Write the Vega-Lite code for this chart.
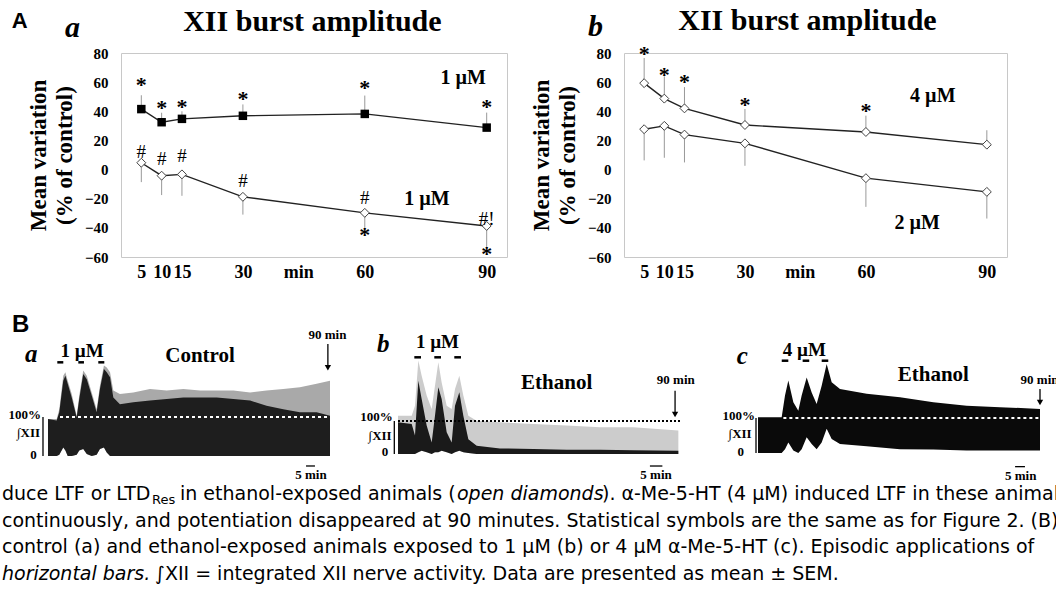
{
  "padding": {"left": 2, "top": 5, "right": 0, "bottom": 0},
  "background": "#ffffff",
  "config": {"view": {"stroke": null}},
  "spacing": 0,
  "datasets": {
    "apts": [
      {"panel":"a","series":"ctrl","t":5,"y":41.5,"err":51},
      {"panel":"a","series":"ctrl","t":10,"y":32.5,"err":39},
      {"panel":"a","series":"ctrl","t":15,"y":34.8,"err":40},
      {"panel":"a","series":"ctrl","t":30,"y":36.9,"err":44.7},
      {"panel":"a","series":"ctrl","t":60,"y":38.2,"err":50.8},
      {"panel":"a","series":"ctrl","t":90,"y":28.8,"err":39.1},
      {"panel":"a","series":"eth","t":5,"y":4.7,"err":-8.6},
      {"panel":"a","series":"eth","t":10,"y":-4.2,"err":-17.5},
      {"panel":"a","series":"eth","t":15,"y":-3.3,"err":-18},
      {"panel":"a","series":"eth","t":30,"y":-18.7,"err":-30.9},
      {"panel":"a","series":"eth","t":60,"y":-29.7,"err":-40.5},
      {"panel":"a","series":"eth","t":90,"y":-38.7,"err":-53.6},
      {"panel":"b","series":"4uM","t":5,"y":59.3,"err":76.6},
      {"panel":"b","series":"4uM","t":10,"y":48.7,"err":64},
      {"panel":"b","series":"4uM","t":15,"y":42,"err":56.6},
      {"panel":"b","series":"4uM","t":30,"y":30.6,"err":41.6},
      {"panel":"b","series":"4uM","t":60,"y":25.8,"err":37},
      {"panel":"b","series":"4uM","t":90,"y":17.1,"err":27},
      {"panel":"b","series":"2uM","t":5,"y":27.7,"err":6.3},
      {"panel":"b","series":"2uM","t":10,"y":30,"err":8.1},
      {"panel":"b","series":"2uM","t":15,"y":24,"err":4.9},
      {"panel":"b","series":"2uM","t":30,"y":18,"err":2.6},
      {"panel":"b","series":"2uM","t":60,"y":-5.9,"err":-25.6},
      {"panel":"b","series":"2uM","t":90,"y":-15.3,"err":-33.6}
    ],
    "atext": [
      {"panel":"a","kind":"star","t":5,"y":59.6,"label":"*"},
      {"panel":"a","kind":"star","t":10,"y":43.5,"label":"*"},
      {"panel":"a","kind":"star","t":15,"y":44,"label":"*"},
      {"panel":"a","kind":"star","t":30,"y":49.8,"label":"*"},
      {"panel":"a","kind":"star","t":60,"y":57.3,"label":"*"},
      {"panel":"a","kind":"star","t":90,"y":44,"label":"*"},
      {"panel":"a","kind":"star","t":60,"y":-43.2,"label":"*"},
      {"panel":"a","kind":"star","t":90,"y":-56.3,"label":"*"},
      {"panel":"a","kind":"hash","t":5,"y":12.3,"label":"#"},
      {"panel":"a","kind":"hash","t":10,"y":7.3,"label":"#"},
      {"panel":"a","kind":"hash","t":15,"y":9.5,"label":"#"},
      {"panel":"a","kind":"hash","t":30,"y":-7.7,"label":"#"},
      {"panel":"a","kind":"hash","t":60,"y":-19.6,"label":"#"},
      {"panel":"a","kind":"hash","t":90,"y":-34,"label":"#!"},
      {"panel":"a","kind":"conc","t":84.2,"y":63.5,"label":"1 µM"},
      {"panel":"a","kind":"conc","t":75.3,"y":-19.8,"label":"1 µM"},
      {"panel":"a","kind":"title","t":47.1,"y":95.3,"label":"XII burst amplitude"},
      {"panel":"a","kind":"letter","t":-13.8,"y":90.8,"label":"a"},
      {"panel":"a","kind":"panel","t":-26.9,"y":97,"label":"A"},
      {"panel":"b","kind":"star","t":5,"y":80.7,"label":"*"},
      {"panel":"b","kind":"star","t":10,"y":66.4,"label":"*"},
      {"panel":"b","kind":"star","t":15,"y":61.6,"label":"*"},
      {"panel":"b","kind":"star","t":30,"y":45.8,"label":"*"},
      {"panel":"b","kind":"star","t":60,"y":41.7,"label":"*"},
      {"panel":"b","kind":"conc","t":76.6,"y":50.9,"label":"4 µM"},
      {"panel":"b","kind":"conc","t":72.7,"y":-35.7,"label":"2 µM"},
      {"panel":"b","kind":"title","t":45.5,"y":96,"label":"XII burst amplitude"},
      {"panel":"b","kind":"letter","t":-8.93,"y":91.9,"label":"b"}
    ],
    "trace": [
      {"panel":"a","t":0,"hi":95,"core":95,"lo":0},
      {"panel":"a","t":3.7,"hi":95,"core":91,"lo":0},
      {"panel":"a","t":4.8,"hi":120,"core":112,"lo":3},
      {"panel":"a","t":6.5,"hi":206,"core":193,"lo":22},
      {"panel":"a","t":7.4,"hi":215,"core":206,"lo":14},
      {"panel":"a","t":8.4,"hi":193,"core":185,"lo":0},
      {"panel":"a","t":10.1,"hi":159,"core":150,"lo":0},
      {"panel":"a","t":12.2,"hi":103,"core":99,"lo":3},
      {"panel":"a","t":13.3,"hi":155,"core":146,"lo":14},
      {"panel":"a","t":15.0,"hi":219,"core":210,"lo":18},
      {"panel":"a","t":16.5,"hi":206,"core":197,"lo":5},
      {"panel":"a","t":18.6,"hi":163,"core":155,"lo":0},
      {"panel":"a","t":20.7,"hi":120,"core":112,"lo":3},
      {"panel":"a","t":22.1,"hi":180,"core":172,"lo":18},
      {"panel":"a","t":23.8,"hi":232,"core":223,"lo":22},
      {"panel":"a","t":25.0,"hi":227,"core":215,"lo":9},
      {"panel":"a","t":26.4,"hi":215,"core":202,"lo":0},
      {"panel":"a","t":27.8,"hi":168,"core":150,"lo":0},
      {"panel":"a","t":30.6,"hi":159,"core":133,"lo":0},
      {"panel":"a","t":36.3,"hi":163,"core":138,"lo":0},
      {"panel":"a","t":43.4,"hi":172,"core":142,"lo":0},
      {"panel":"a","t":50.5,"hi":168,"core":146,"lo":0},
      {"panel":"a","t":57.6,"hi":172,"core":150,"lo":0},
      {"panel":"a","t":64.7,"hi":168,"core":150,"lo":0},
      {"panel":"a","t":71.8,"hi":168,"core":150,"lo":0},
      {"panel":"a","t":78.9,"hi":168,"core":146,"lo":0},
      {"panel":"a","t":86.0,"hi":163,"core":142,"lo":0},
      {"panel":"a","t":93.0,"hi":168,"core":129,"lo":0},
      {"panel":"a","t":100.1,"hi":172,"core":120,"lo":0},
      {"panel":"a","t":107.2,"hi":176,"core":112,"lo":0},
      {"panel":"a","t":114.3,"hi":185,"core":112,"lo":0},
      {"panel":"a","t":120,"hi":193,"core":103,"lo":0},
      {"panel":"b","t":0,"hi":116,"core":96,"lo":0},
      {"panel":"b","t":5.82,"hi":116,"core":91,"lo":0},
      {"panel":"b","t":7.23,"hi":146,"core":56,"lo":0},
      {"panel":"b","t":8.65,"hi":283,"core":222,"lo":5},
      {"panel":"b","t":10.07,"hi":237,"core":167,"lo":10},
      {"panel":"b","t":12.2,"hi":177,"core":86,"lo":5},
      {"panel":"b","t":14.33,"hi":136,"core":35,"lo":0},
      {"panel":"b","t":15.74,"hi":207,"core":116,"lo":5},
      {"panel":"b","t":17.16,"hi":278,"core":202,"lo":5},
      {"panel":"b","t":18.58,"hi":217,"core":167,"lo":10},
      {"panel":"b","t":20.71,"hi":146,"core":66,"lo":5},
      {"panel":"b","t":22.84,"hi":136,"core":35,"lo":0},
      {"panel":"b","t":24.26,"hi":197,"core":146,"lo":5},
      {"panel":"b","t":26.1,"hi":237,"core":187,"lo":10},
      {"panel":"b","t":27.8,"hi":177,"core":116,"lo":5},
      {"panel":"b","t":29.93,"hi":116,"core":45,"lo":3},
      {"panel":"b","t":33.48,"hi":101,"core":25,"lo":0},
      {"panel":"b","t":43.4,"hi":96,"core":17,"lo":0},
      {"panel":"b","t":57.6,"hi":91,"core":15,"lo":0},
      {"panel":"b","t":71.77,"hi":86,"core":13,"lo":0},
      {"panel":"b","t":85.96,"hi":81,"core":13,"lo":0},
      {"panel":"b","t":100.14,"hi":81,"core":11,"lo":0},
      {"panel":"b","t":119.3,"hi":71,"core":10,"lo":0},
      {"panel":"c","t":0,"hi":102,"core":102,"lo":0},
      {"panel":"c","t":10.07,"hi":102,"core":102,"lo":0},
      {"panel":"c","t":11.49,"hi":164,"core":164,"lo":11},
      {"panel":"c","t":12.91,"hi":207,"core":207,"lo":30},
      {"panel":"c","t":15.04,"hi":145,"core":145,"lo":7},
      {"panel":"c","t":17.16,"hi":121,"core":121,"lo":0},
      {"panel":"c","t":18.58,"hi":164,"core":164,"lo":11},
      {"panel":"c","t":20.71,"hi":216,"core":216,"lo":45},
      {"panel":"c","t":22.84,"hi":173,"core":173,"lo":26},
      {"panel":"c","t":24.96,"hi":140,"core":140,"lo":11},
      {"panel":"c","t":27.09,"hi":192,"core":192,"lo":30},
      {"panel":"c","t":29.22,"hi":254,"core":254,"lo":69},
      {"panel":"c","t":31.35,"hi":202,"core":202,"lo":40},
      {"panel":"c","t":34.89,"hi":183,"core":183,"lo":26},
      {"panel":"c","t":46.24,"hi":169,"core":169,"lo":19},
      {"panel":"c","t":60.43,"hi":159,"core":159,"lo":11},
      {"panel":"c","t":74.61,"hi":145,"core":145,"lo":10},
      {"panel":"c","t":88.79,"hi":135,"core":135,"lo":7},
      {"panel":"c","t":102.98,"hi":131,"core":131,"lo":7},
      {"panel":"c","t":120,"hi":126,"core":126,"lo":7}
    ],
    "blines": [
      {"panel":"a","kind":"dotw","t":0,"t2":120,"v":100,"v2":100},
      {"panel":"a","kind":"thin","t":-2.13,"t2":-2.13,"v":0,"v2":100},
      {"panel":"a","kind":"app","t":3.96,"t2":6.51,"v":240.2,"v2":240.2},
      {"panel":"a","kind":"app","t":12.9,"t2":15.3,"v":240.2,"v2":240.2},
      {"panel":"a","kind":"app","t":21.4,"t2":23.96,"v":240.2,"v2":240.2},
      {"panel":"a","kind":"thin","t":119.1,"t2":119.1,"v":287,"v2":226},
      {"panel":"a","kind":"thin","t":109.8,"t2":113.6,"v":-25.6,"v2":-25.6},
      {"panel":"b","kind":"dotk","t":0,"t2":120.7,"v":100,"v2":100},
      {"panel":"b","kind":"thin","t":-1.57,"t2":-1.57,"v":0,"v2":100},
      {"panel":"b","kind":"app","t":6.95,"t2":9.79,"v":293,"v2":293},
      {"panel":"b","kind":"app","t":15.45,"t2":18.3,"v":293,"v2":293},
      {"panel":"b","kind":"app","t":23.96,"t2":26.8,"v":293,"v2":293},
      {"panel":"b","kind":"thin","t":117.9,"t2":117.9,"v":192,"v2":120},
      {"panel":"b","kind":"thin","t":107.2,"t2":112.5,"v":-36.4,"v2":-36.4},
      {"panel":"c","kind":"dotw","t":10.8,"t2":120,"v":100,"v2":100},
      {"panel":"c","kind":"thin","t":-0.85,"t2":-0.85,"v":0,"v2":100},
      {"panel":"c","kind":"app","t":10.1,"t2":12.9,"v":263.7,"v2":263.7},
      {"panel":"c","kind":"app","t":19.0,"t2":21.8,"v":263.7,"v2":263.7},
      {"panel":"c","kind":"app","t":27.1,"t2":29.9,"v":263.7,"v2":263.7},
      {"panel":"c","kind":"thin","t":120,"t2":120,"v":183,"v2":144},
      {"panel":"c","kind":"thin","t":109.4,"t2":113.6,"v":-39,"v2":-39}
    ],
    "bhead": [
      {"panel":"a","t":119.1,"v":226},
      {"panel":"b","t":117.9,"v":120},
      {"panel":"c","t":120,"v":144}
    ],
    "btext": [
      {"panel":"a","kind":"panel","t":-15.32,"v":317.9,"label":"B"},
      {"panel":"a","kind":"letter","t":-9.79,"v":241,"label":"a"},
      {"panel":"a","kind":"conc","t":14.5,"v":253,"label":"1 µM"},
      {"panel":"a","kind":"cond","t":64.7,"v":241.8,"label":"Control"},
      {"panel":"a","kind":"time","t":118.9,"v":300,"label":"90 min"},
      {"panel":"a","kind":"time","t":111.9,"v":-59,"label":"5 min"},
      {"panel":"a","kind":"scale","t":-2.98,"v":94.9,"label":"100%"},
      {"panel":"a","kind":"scale","t":-3.4,"v":47.9,"label":"∫XII"},
      {"panel":"a","kind":"scale","t":-4.8,"v":-7.7,"label":"0"},
      {"panel":"b","kind":"letter","t":-8.94,"v":308,"label":"b"},
      {"panel":"b","kind":"conc","t":16.8,"v":320,"label":"1 µM"},
      {"panel":"b","kind":"cond","t":67.5,"v":197,"label":"Ethanol"},
      {"panel":"b","kind":"time","t":118.2,"v":212,"label":"90 min"},
      {"panel":"b","kind":"time","t":109.8,"v":-75.8,"label":"5 min"},
      {"panel":"b","kind":"scale","t":-2.26,"v":100.9,"label":"100%"},
      {"panel":"b","kind":"scale","t":-2.7,"v":43.4,"label":"∫XII"},
      {"panel":"b","kind":"scale","t":-4.1,"v":-5,"label":"0"},
      {"panel":"c","kind":"letter","t":-9.06,"v":254,"label":"c"},
      {"panel":"c","kind":"conc","t":19.7,"v":278,"label":"4 µM"},
      {"panel":"c","kind":"cond","t":74.6,"v":206.7,"label":"Ethanol"},
      {"panel":"c","kind":"time","t":119.8,"v":197,"label":"90 min"},
      {"panel":"c","kind":"time","t":111.8,"v":-76.3,"label":"5 min"},
      {"panel":"c","kind":"scale","t":-1.28,"v":94.3,"label":"100%"},
      {"panel":"c","kind":"scale","t":-2.7,"v":42,"label":"∫XII"},
      {"panel":"c","kind":"scale","t":-6,"v":-7.6,"label":"0"}
    ],
    "cap": [
      {"kind":"plain","line":1,"text":"duce LTF or LTD"},
      {"kind":"sub","line":1,"text":"Res"},
      {"kind":"l1b","line":1,"text":" in ethanol-exposed animals ("},
      {"kind":"l1i","line":1,"text":"open diamonds"},
      {"kind":"l1c","line":1,"text":"). α-Me-5-HT (4 µM) induced LTF in these animals,"},
      {"kind":"plain","line":2,"text":"continuously, and potentiation disappeared at 90 minutes. Statistical symbols are the same as for Figure 2. (B) Raw"},
      {"kind":"plain","line":3,"text":"control (a) and ethanol-exposed animals exposed to 1 µM (b) or 4 µM α-Me-5-HT (c). Episodic applications of"},
      {"kind":"l4i","line":4,"text":"horizontal bars."},
      {"kind":"l4b","line":4,"text":" ∫XII = integrated XII nerve activity. Data are presented as mean ± SEM."}
    ]
  },
  "vconcat": [
    {
      "hconcat": [
        {"width": 2, "height": 204, "data": {"values": []}, "mark": "point"},
        {
          "width": 386, "height": 204,
          "view": {"stroke": "#c8c8c8"},
          "encoding": {
            "x": {"field":"t","type":"quantitative","scale":{"domain":[0,95],"nice":false,"zero":false},
                  "axis":{"values":[5,10,15,30,43.6,60,90],"labelExpr":"datum.value == 43.6 ? 'min' : datum.label","title":null,"grid":false,"ticks":false,"domain":false,"labelFont":"Liberation Serif","labelFontWeight":"bold","labelFontSize":18,"labelColor":"#000","labelPadding":6,"labelOverlap":false,"labelFlush":false}},
            "y": {"field":"y","type":"quantitative","scale":{"domain":[-60,80],"nice":false,"zero":false},
                  "axis":{"values":[-60,-40,-20,0,20,40,60,80],"title":["Mean variation","(% of control)"],"titleFont":"Liberation Serif","titleFontWeight":"bold","titleFontSize":23,"titleLineHeight":26,"titleColor":"#000","titlePadding":8,"grid":false,"ticks":false,"domain":false,"labelFont":"Liberation Serif","labelFontWeight":"bold","labelFontSize":15,"labelColor":"#000","labelPadding":13}}
          },
          "layer": [
            {"data":{"values":[{}]},"mark":{"type":"rule","color":"#cfcfcf","strokeWidth":1},"encoding":{"x":{"datum":0},"x2":{"datum":95},"y":{"datum":0}}},
            {"data":{"name":"apts"},"transform":[{"filter":"datum.panel == 'a'"}],"mark":{"type":"rule","color":"#999999","strokeWidth":1},"encoding":{"y2":{"field":"err"}}},
            {"data":{"name":"apts"},"transform":[{"filter":"datum.panel == 'a'"}],"mark":{"type":"line","color":"#222222","strokeWidth":1.4},"encoding":{"detail":{"field":"series"}}},
            {"data":{"name":"apts"},"transform":[{"filter":"datum.panel == 'a' && datum.series == 'ctrl'"}],"mark":{"type":"point","shape":"square","filled":true,"color":"#000000","size":72,"opacity":1}},
            {"data":{"name":"apts"},"transform":[{"filter":"datum.panel == 'a' && datum.series == 'eth'"}],"mark":{"type":"point","shape":"diamond","filled":true,"fill":"#ffffff","stroke":"#444444","strokeWidth":1,"size":80,"opacity":1}},
            {"data":{"name":"atext"},"transform":[{"filter":"datum.panel == 'a' && datum.kind == 'star'"}],"mark":{"type":"text","font":"Liberation Serif","fontWeight":"bold","fontSize":22,"baseline":"middle","dy":2,"color":"#000"},"encoding":{"text":{"field":"label"}}},
            {"data":{"name":"atext"},"transform":[{"filter":"datum.panel == 'a' && datum.kind == 'hash'"}],"mark":{"type":"text","font":"Liberation Serif","fontSize":19,"baseline":"middle","dy":0,"color":"#000"},"encoding":{"text":{"field":"label"}}},
            {"data":{"name":"atext"},"transform":[{"filter":"datum.panel == 'a' && datum.kind == 'conc'"}],"mark":{"type":"text","font":"Liberation Serif","fontWeight":"bold","fontSize":20,"baseline":"middle","dy":1,"color":"#000"},"encoding":{"text":{"field":"label"}}},
            {"data":{"name":"atext"},"transform":[{"filter":"datum.panel == 'a' && datum.kind == 'title'"}],"mark":{"type":"text","font":"Liberation Serif","fontWeight":"bold","fontSize":30,"baseline":"alphabetic","align":"center","color":"#000"},"encoding":{"text":{"field":"label"}}},
            {"data":{"name":"atext"},"transform":[{"filter":"datum.panel == 'a' && datum.kind == 'letter'"}],"mark":{"type":"text","font":"Liberation Serif","fontWeight":"bold","fontStyle":"italic","fontSize":30,"baseline":"alphabetic","align":"left","color":"#000"},"encoding":{"text":{"field":"label"}}},
            {"data":{"name":"atext"},"transform":[{"filter":"datum.panel == 'a' && datum.kind == 'panel'"}],"mark":{"type":"text","font":"Liberation Sans","fontWeight":"bold","fontSize":22,"baseline":"alphabetic","align":"left","color":"#000"},"encoding":{"text":{"field":"label"}}}
          ]
        },
        {
          "width": 383, "height": 204,
          "view": {"stroke": "#c8c8c8"},
          "encoding": {
            "x": {"field":"t","type":"quantitative","scale":{"domain":[0,95],"nice":false,"zero":false},
                  "axis":{"values":[5,10,15,30,43.6,60,90],"labelExpr":"datum.value == 43.6 ? 'min' : datum.label","title":null,"grid":false,"ticks":false,"domain":false,"labelFont":"Liberation Serif","labelFontWeight":"bold","labelFontSize":18,"labelColor":"#000","labelPadding":6,"labelOverlap":false,"labelFlush":false}},
            "y": {"field":"y","type":"quantitative","scale":{"domain":[-60,80],"nice":false,"zero":false},
                  "axis":{"values":[-60,-40,-20,0,20,40,60,80],"title":["Mean variation","(% of control)"],"titleFont":"Liberation Serif","titleFontWeight":"bold","titleFontSize":23,"titleLineHeight":26,"titleColor":"#000","titlePadding":8,"grid":false,"ticks":false,"domain":false,"labelFont":"Liberation Serif","labelFontWeight":"bold","labelFontSize":15,"labelColor":"#000","labelPadding":13}}
          },
          "layer": [
            {"data":{"values":[{}]},"mark":{"type":"rule","color":"#cfcfcf","strokeWidth":1},"encoding":{"x":{"datum":0},"x2":{"datum":95},"y":{"datum":0}}},
            {"data":{"name":"apts"},"transform":[{"filter":"datum.panel == 'b'"}],"mark":{"type":"rule","color":"#999999","strokeWidth":1},"encoding":{"y2":{"field":"err"}}},
            {"data":{"name":"apts"},"transform":[{"filter":"datum.panel == 'b'"}],"mark":{"type":"line","color":"#222222","strokeWidth":1.4},"encoding":{"detail":{"field":"series"}}},
            {"data":{"name":"apts"},"transform":[{"filter":"datum.panel == 'b'"}],"mark":{"type":"point","shape":"diamond","filled":true,"fill":"#ffffff","stroke":"#444444","strokeWidth":1,"size":80,"opacity":1}},
            {"data":{"name":"atext"},"transform":[{"filter":"datum.panel == 'b' && datum.kind == 'star'"}],"mark":{"type":"text","font":"Liberation Serif","fontWeight":"bold","fontSize":22,"baseline":"middle","dy":2,"color":"#000"},"encoding":{"text":{"field":"label"}}},
            {"data":{"name":"atext"},"transform":[{"filter":"datum.panel == 'b' && datum.kind == 'conc'"}],"mark":{"type":"text","font":"Liberation Serif","fontWeight":"bold","fontSize":20,"baseline":"middle","dy":1,"color":"#000"},"encoding":{"text":{"field":"label"}}},
            {"data":{"name":"atext"},"transform":[{"filter":"datum.panel == 'b' && datum.kind == 'title'"}],"mark":{"type":"text","font":"Liberation Serif","fontWeight":"bold","fontSize":30,"baseline":"alphabetic","align":"center","color":"#000"},"encoding":{"text":{"field":"label"}}},
            {"data":{"name":"atext"},"transform":[{"filter":"datum.panel == 'b' && datum.kind == 'letter'"}],"mark":{"type":"text","font":"Liberation Serif","fontWeight":"bold","fontStyle":"italic","fontSize":30,"baseline":"alphabetic","align":"left","color":"#000"},"encoding":{"text":{"field":"label"}}}
          ]
        }
      ],
      "spacing": 117,
      "bounds": "flush"
    },
    {
      "hconcat": [
        {
          "width": 328, "height": 198,
          "encoding": {
            "x": {"field":"t","type":"quantitative","scale":{"domain":[-19.574,120],"nice":false,"zero":false},"axis":null},
            "y": {"field":"v","type":"quantitative","scale":{"domain":[-61.54,446.15],"nice":false,"zero":false},"axis":null}
          },
          "layer": [
            {"data":{"name":"trace"},"transform":[{"filter":"datum.panel == 'a'"}],"mark":{"type":"area","color":"#a9a9a9","opacity":1},"encoding":{"y":{"field":"hi","type":"quantitative","scale":{"domain":[-61.54,446.15],"nice":false,"zero":false},"axis":null},"y2":{"field":"lo"}}},
            {"data":{"name":"trace"},"transform":[{"filter":"datum.panel == 'a'"}],"mark":{"type":"area","color":"#1e1e1e","opacity":1},"encoding":{"y":{"field":"core","type":"quantitative","scale":{"domain":[-61.54,446.15],"nice":false,"zero":false},"axis":null},"y2":{"field":"lo"}}},
            {"data":{"name":"blines"},"transform":[{"filter":"datum.panel == 'a' && datum.kind == 'dotw'"}],"mark":{"type":"rule","color":"#ffffff","strokeWidth":2,"strokeDash":[3,3]},"encoding":{"x2":{"field":"t2"},"y2":{"field":"v2"}}},
            {"data":{"name":"blines"},"transform":[{"filter":"datum.panel == 'a' && datum.kind == 'thin'"}],"mark":{"type":"rule","color":"#000000","strokeWidth":1.3},"encoding":{"x2":{"field":"t2"},"y2":{"field":"v2"}}},
            {"data":{"name":"blines"},"transform":[{"filter":"datum.panel == 'a' && datum.kind == 'app'"}],"mark":{"type":"rule","color":"#000000","strokeWidth":2.5},"encoding":{"x2":{"field":"t2"},"y2":{"field":"v2"}}},
            {"data":{"name":"bhead"},"transform":[{"filter":"datum.panel == 'a'"}],"mark":{"type":"point","shape":"triangle-down","filled":true,"color":"#000000","size":40,"opacity":1}},
            {"data":{"name":"btext"},"transform":[{"filter":"datum.panel == 'a' && datum.kind == 'panel'"}],"mark":{"type":"text","font":"Liberation Sans","fontWeight":"bold","fontSize":24,"align":"left","baseline":"alphabetic","color":"#000"},"encoding":{"text":{"field":"label"}}},
            {"data":{"name":"btext"},"transform":[{"filter":"datum.panel == 'a' && datum.kind == 'letter'"}],"mark":{"type":"text","font":"Liberation Serif","fontWeight":"bold","fontStyle":"italic","fontSize":25,"align":"left","baseline":"alphabetic","color":"#000"},"encoding":{"text":{"field":"label"}}},
            {"data":{"name":"btext"},"transform":[{"filter":"datum.panel == 'a' && datum.kind == 'conc'"}],"mark":{"type":"text","font":"Liberation Serif","fontWeight":"bold","fontSize":19,"align":"center","baseline":"alphabetic","color":"#000"},"encoding":{"text":{"field":"label"}}},
            {"data":{"name":"btext"},"transform":[{"filter":"datum.panel == 'a' && datum.kind == 'cond'"}],"mark":{"type":"text","font":"Liberation Serif","fontWeight":"bold","fontSize":21,"align":"center","baseline":"alphabetic","color":"#000"},"encoding":{"text":{"field":"label"}}},
            {"data":{"name":"btext"},"transform":[{"filter":"datum.panel == 'a' && datum.kind == 'time'"}],"mark":{"type":"text","font":"Liberation Serif","fontWeight":"bold","fontSize":13,"align":"center","baseline":"alphabetic","color":"#000"},"encoding":{"text":{"field":"label"}}},
            {"data":{"name":"btext"},"transform":[{"filter":"datum.panel == 'a' && datum.kind == 'scale'"}],"mark":{"type":"text","font":"Liberation Serif","fontWeight":"bold","fontSize":13,"align":"right","baseline":"alphabetic","color":"#000"},"encoding":{"text":{"field":"label"}}}
          ]
        },
        {
          "width": 370, "height": 198,
          "encoding": {
            "x": {"field":"t","type":"quantitative","scale":{"domain":[-28.936,128.511],"nice":false,"zero":false},"axis":null},
            "y": {"field":"v","type":"quantitative","scale":{"domain":[-78.79,521.21],"nice":false,"zero":false},"axis":null}
          },
          "layer": [
            {"data":{"name":"trace"},"transform":[{"filter":"datum.panel == 'b'"}],"mark":{"type":"area","color":"#cccccc","opacity":1},"encoding":{"y":{"field":"hi","type":"quantitative","scale":{"domain":[-78.79,521.21],"nice":false,"zero":false},"axis":null},"y2":{"field":"lo"}}},
            {"data":{"name":"trace"},"transform":[{"filter":"datum.panel == 'b'"}],"mark":{"type":"area","color":"#1a1a1a","opacity":1},"encoding":{"y":{"field":"core","type":"quantitative","scale":{"domain":[-78.79,521.21],"nice":false,"zero":false},"axis":null},"y2":{"field":"lo"}}},
            {"data":{"name":"blines"},"transform":[{"filter":"datum.panel == 'b' && datum.kind == 'dotk'"}],"mark":{"type":"rule","color":"#000000","strokeWidth":2,"strokeDash":[2,2]},"encoding":{"x2":{"field":"t2"},"y2":{"field":"v2"}}},
            {"data":{"name":"blines"},"transform":[{"filter":"datum.panel == 'b' && datum.kind == 'thin'"}],"mark":{"type":"rule","color":"#000000","strokeWidth":1.3},"encoding":{"x2":{"field":"t2"},"y2":{"field":"v2"}}},
            {"data":{"name":"blines"},"transform":[{"filter":"datum.panel == 'b' && datum.kind == 'app'"}],"mark":{"type":"rule","color":"#000000","strokeWidth":2.5},"encoding":{"x2":{"field":"t2"},"y2":{"field":"v2"}}},
            {"data":{"name":"bhead"},"transform":[{"filter":"datum.panel == 'b'"}],"mark":{"type":"point","shape":"triangle-down","filled":true,"color":"#000000","size":40,"opacity":1}},
            {"data":{"name":"btext"},"transform":[{"filter":"datum.panel == 'b' && datum.kind == 'letter'"}],"mark":{"type":"text","font":"Liberation Serif","fontWeight":"bold","fontStyle":"italic","fontSize":25,"align":"left","baseline":"alphabetic","color":"#000"},"encoding":{"text":{"field":"label"}}},
            {"data":{"name":"btext"},"transform":[{"filter":"datum.panel == 'b' && datum.kind == 'conc'"}],"mark":{"type":"text","font":"Liberation Serif","fontWeight":"bold","fontSize":19,"align":"center","baseline":"alphabetic","color":"#000"},"encoding":{"text":{"field":"label"}}},
            {"data":{"name":"btext"},"transform":[{"filter":"datum.panel == 'b' && datum.kind == 'cond'"}],"mark":{"type":"text","font":"Liberation Serif","fontWeight":"bold","fontSize":21,"align":"center","baseline":"alphabetic","color":"#000"},"encoding":{"text":{"field":"label"}}},
            {"data":{"name":"btext"},"transform":[{"filter":"datum.panel == 'b' && datum.kind == 'time'"}],"mark":{"type":"text","font":"Liberation Serif","fontWeight":"bold","fontSize":13,"align":"center","baseline":"alphabetic","color":"#000"},"encoding":{"text":{"field":"label"}}},
            {"data":{"name":"btext"},"transform":[{"filter":"datum.panel == 'b' && datum.kind == 'scale'"}],"mark":{"type":"text","font":"Liberation Serif","fontWeight":"bold","fontSize":13,"align":"right","baseline":"alphabetic","color":"#000"},"encoding":{"text":{"field":"label"}}}
          ]
        },
        {
          "width": 356, "height": 198,
          "encoding": {
            "x": {"field":"t","type":"quantitative","scale":{"domain":[-24.681,126.809],"nice":false,"zero":false},"axis":null},
            "y": {"field":"v","type":"quantitative","scale":{"domain":[-77.14,488.57],"nice":false,"zero":false},"axis":null}
          },
          "layer": [
            {"data":{"name":"trace"},"transform":[{"filter":"datum.panel == 'c'"}],"mark":{"type":"area","color":"#0a0a0a","opacity":1},"encoding":{"y":{"field":"hi","type":"quantitative","scale":{"domain":[-77.14,488.57],"nice":false,"zero":false},"axis":null},"y2":{"field":"lo"}}},
            {"data":{"name":"blines"},"transform":[{"filter":"datum.panel == 'c' && datum.kind == 'dotw'"}],"mark":{"type":"rule","color":"#ffffff","strokeWidth":2,"strokeDash":[3,3]},"encoding":{"x2":{"field":"t2"},"y2":{"field":"v2"}}},
            {"data":{"name":"blines"},"transform":[{"filter":"datum.panel == 'c' && datum.kind == 'thin'"}],"mark":{"type":"rule","color":"#000000","strokeWidth":1.3},"encoding":{"x2":{"field":"t2"},"y2":{"field":"v2"}}},
            {"data":{"name":"blines"},"transform":[{"filter":"datum.panel == 'c' && datum.kind == 'app'"}],"mark":{"type":"rule","color":"#000000","strokeWidth":2.5},"encoding":{"x2":{"field":"t2"},"y2":{"field":"v2"}}},
            {"data":{"name":"bhead"},"transform":[{"filter":"datum.panel == 'c'"}],"mark":{"type":"point","shape":"triangle-down","filled":true,"color":"#000000","size":40,"opacity":1}},
            {"data":{"name":"btext"},"transform":[{"filter":"datum.panel == 'c' && datum.kind == 'letter'"}],"mark":{"type":"text","font":"Liberation Serif","fontWeight":"bold","fontStyle":"italic","fontSize":25,"align":"left","baseline":"alphabetic","color":"#000"},"encoding":{"text":{"field":"label"}}},
            {"data":{"name":"btext"},"transform":[{"filter":"datum.panel == 'c' && datum.kind == 'conc'"}],"mark":{"type":"text","font":"Liberation Serif","fontWeight":"bold","fontSize":19,"align":"center","baseline":"alphabetic","color":"#000"},"encoding":{"text":{"field":"label"}}},
            {"data":{"name":"btext"},"transform":[{"filter":"datum.panel == 'c' && datum.kind == 'cond'"}],"mark":{"type":"text","font":"Liberation Serif","fontWeight":"bold","fontSize":21,"align":"center","baseline":"alphabetic","color":"#000"},"encoding":{"text":{"field":"label"}}},
            {"data":{"name":"btext"},"transform":[{"filter":"datum.panel == 'c' && datum.kind == 'time'"}],"mark":{"type":"text","font":"Liberation Serif","fontWeight":"bold","fontSize":13,"align":"center","baseline":"alphabetic","color":"#000","clip":true},"encoding":{"text":{"field":"label"}}},
            {"data":{"name":"btext"},"transform":[{"filter":"datum.panel == 'c' && datum.kind == 'scale'"}],"mark":{"type":"text","font":"Liberation Serif","fontWeight":"bold","fontSize":13,"align":"right","baseline":"alphabetic","color":"#000"},"encoding":{"text":{"field":"label"}}}
          ]
        }
      ],
      "spacing": 0,
      "bounds": "flush"
    },
    {
      "width": 1054, "height": 109,
      "data": {"name": "cap"},
      "encoding": {
        "x": {"datum": 0, "type": "quantitative", "scale": {"domain": [0, 1], "nice": false, "zero": false}, "axis": null},
        "y": {"field": "line", "type": "quantitative", "scale": {"domain": [0.3625, 4.45], "reverse": true, "nice": false, "zero": false}, "axis": null},
        "text": {"field": "text"}
      },
      "layer": [
        {"transform":[{"filter":"datum.kind == 'plain'"}],"mark":{"type":"text","font":"DejaVu Sans","fontSize":19,"align":"left","baseline":"alphabetic","color":"#000","clip":true}},
        {"transform":[{"filter":"datum.kind == 'sub'"}],"mark":{"type":"text","font":"DejaVu Sans","fontSize":13,"align":"left","baseline":"alphabetic","dx":150,"dy":4,"color":"#000","clip":true}},
        {"transform":[{"filter":"datum.kind == 'l1b'"}],"mark":{"type":"text","font":"DejaVu Sans","fontSize":19,"align":"left","baseline":"alphabetic","dx":178,"color":"#000","clip":true}},
        {"transform":[{"filter":"datum.kind == 'l1i'"}],"mark":{"type":"text","font":"DejaVu Sans","fontStyle":"italic","fontSize":19,"align":"left","baseline":"alphabetic","dx":455,"color":"#000","clip":true}},
        {"transform":[{"filter":"datum.kind == 'l1c'"}],"mark":{"type":"text","font":"DejaVu Sans","fontSize":19,"align":"left","baseline":"alphabetic","dx":600,"color":"#000","clip":true}},
        {"transform":[{"filter":"datum.kind == 'l4i'"}],"mark":{"type":"text","font":"DejaVu Sans","fontStyle":"italic","fontSize":19,"align":"left","baseline":"alphabetic","color":"#000","clip":true}},
        {"transform":[{"filter":"datum.kind == 'l4b'"}],"mark":{"type":"text","font":"DejaVu Sans","fontSize":19,"align":"left","baseline":"alphabetic","dx":153,"color":"#000","clip":true}}
      ]
    }
  ]
}
